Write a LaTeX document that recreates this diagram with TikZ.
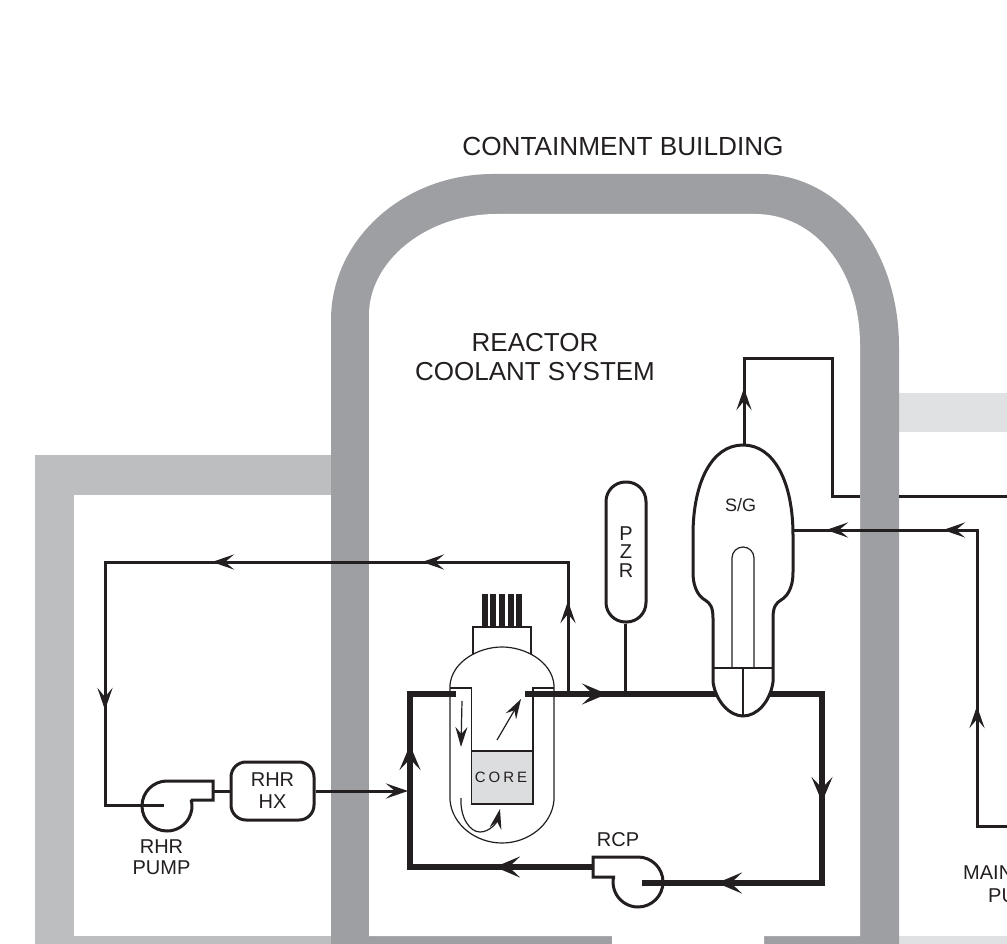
\documentclass[tikz,border=0pt]{standalone}
\usepackage{fontspec}
\setmainfont{Liberation Sans}
\usepackage{xcolor}
\usetikzlibrary{arrows.meta}

\definecolor{wallgray}{HTML}{9D9FA2}
\definecolor{auxgray}{HTML}{BCBEC0}
\definecolor{lightgray}{HTML}{E0E1E3}
\definecolor{coregray}{HTML}{DCDDDE}
\definecolor{inkblack}{HTML}{231F20}

\tikzset{
  textlabel/.style={text=inkblack, font=\fontsize{#1}{#1}\selectfont, inner sep=0pt, align=center},
  pipe/.style={draw=inkblack, line width=3pt},
  mainpipe/.style={draw=inkblack, line width=5.5pt},
  thinline/.style={draw=inkblack, line width=1.2pt},
  tip/.style={-{Stealth[length=25pt, width=21pt, inset=11pt]}},
  smalltip/.style={-{Stealth[length=22pt, width=15pt, inset=9pt]}},
  thintip/.style={-{Stealth[length=20pt, width=12pt, inset=7pt]}}
}

\begin{document}
\begin{tikzpicture}[x=1pt, y=-1pt, line join=miter]

\useasboundingbox (0,0) rectangle (1007,944);
\clip (0,0) rectangle (1007,944);

% Auxiliary buildings
\fill[auxgray] (35,455) rectangle (340,944);
\fill[white] (74,495) rectangle (340,936);
\fill[lightgray] (890,393) rectangle (1007,432);
\fill[lightgray] (890,936) rectangle (1007,944);

% Containment building
\fill[wallgray] (331,944) -- (331,320) .. controls (331,240) and (403,174) .. (493,174)
  -- (760,174) .. controls (840,174) and (899,250) .. (899,347) -- (899,944) -- cycle;
\fill[white] (369,936) -- (369,315) .. controls (369,262) and (425,214) .. (497,214)
  -- (755,214) .. controls (815,214) and (860,270) .. (860,345) -- (860,936) -- (764,936)
  -- (764,944) -- (612,944) -- (612,936) -- cycle;

\node[textlabel=26.2] (contlabel) at (623,146) {CONTAINMENT BUILDING};
\node[textlabel=26] (rcslabel) at (535,357) {REACTOR\\[3.5pt]COOLANT SYSTEM};

% Reactor vessel
\foreach \rodx in {484.7,493.3,502.3,510.7,519.3}
  \fill[inkblack] (\rodx-2.9,594) rectangle (\rodx+2.9,627);
\draw[thinline] (473,654) -- (473,627) -- (531,627) -- (531,654);
\draw[thinline, fill=white] (450,685) .. controls (452,662) and (478,647) .. (502,647)
  .. controls (526,647) and (552,662) .. (554,685) -- (554,800)
  .. controls (552,825) and (528,843) .. (502,843)
  .. controls (476,843) and (452,825) .. (450,800) -- cycle;
\fill[coregray] (471.5,751) rectangle (533,804);
\draw[thinline] (450,688) -- (471.5,688) -- (471.5,804) -- (533,804) -- (533,688) -- (554,688);
\draw[thinline] (471.5,751) -- (533,751);
\node[textlabel=15] (corelabel) at (501,777.5) {\addfontfeatures{LetterSpace=20}CORE};

\coordinate (downstart) at (462,701);
\coordinate (downend) at (461,747);
\coordinate (upstart) at (497,740);
\coordinate (upend) at (521,699);
\draw[thinline, thintip] (downstart) -- (downend);
\draw[thinline, thintip] (upstart) -- (upend);
\draw[thinline, thintip] (461,798) .. controls (460,818) and (470,832) .. (480,832)
  .. controls (490,832) and (497,822) .. (500,809);

% Reactor coolant loop
\coordinate (hotstart) at (525,694);
\coordinate (hotmid) at (607,694);
\coordinate (loopcorner) at (822,694);
\coordinate (loopmid) at (822,802);
\coordinate (loopbottom) at (822,883);
\coordinate (coldmid) at (717,883);
\coordinate (rcpeye) at (642,883);
\coordinate (rcpout) at (593,867);
\coordinate (returnmid) at (495,867);
\coordinate (returncorner) at (410,867);
\coordinate (riser) at (410,745);
\coordinate (inlettop) at (410,694);
\coordinate (inletend) at (456,694);

\draw[mainpipe] (hotstart) -- (loopcorner) -- (loopbottom) -- (rcpeye);
\draw[mainpipe] (rcpout) -- (returncorner) -- (inlettop) -- (inletend);
\draw[pipe, tip] (hotstart) -- (hotmid);
\draw[pipe, tip] (loopcorner) -- (loopmid);
\draw[pipe, tip] (loopbottom) -- (coldmid);
\draw[pipe, tip] (rcpout) -- (returnmid);
\draw[pipe, tip] (returncorner) -- (riser);

% Reactor coolant pump
\draw[pipe] (615,877) -- (593,877) -- (593,857) -- (638,857) arc (-90:190:25);
\node[textlabel=20] (rcplabel) at (618,840) {RCP};

% Pressurizer
\node[draw=inkblack, line width=3pt, fill=white, rounded corners=19.5pt, minimum width=40pt,
  minimum height=140pt, inner sep=0pt, textlabel=20] (pzr) at (626,552) {P\\[-1.5pt]Z\\[-1.5pt]R};
\coordinate (pzrfoot) at (pzr.south -| 625,0);
\coordinate (pzrtee) at (625,694);
\draw[pipe] (pzrfoot) -- (pzrtee);

% Steam generator
\draw[pipe, fill=white] (743,445) .. controls (712,445) and (693,482) .. (693,535)
  -- (693,572) .. controls (693,590) and (700,597) .. (705,600)
  .. controls (710,603) and (713,607) .. (713,618) -- (713,682)
  .. controls (716,702) and (730,716) .. (743,716)
  .. controls (757,716) and (770,702) .. (773,682) -- (773,618)
  .. controls (773,607) and (776,603) .. (781,600)
  .. controls (786,597) and (793,590) .. (793,572) -- (793,535)
  .. controls (793,482) and (774,445) .. (743,445) -- cycle;
\draw[thinline] (713,668) -- (773,668);
\draw[thinline] (743,668) -- (743,716);
\draw[thinline] (732,668) -- (732,558) arc (180:360:11) -- (754,668);
\node[textlabel=18] (sglabel) at (740.5,505) {S/G};

% Steam and feedwater lines
\coordinate (sgtop) at (744,445);
\coordinate (steamup) at (744,388);
\coordinate (steamtop) at (744,358);
\coordinate (steamright) at (832,358);
\coordinate (steamdrop) at (832,496);
\coordinate (wallleft) at (860,496);
\coordinate (wallright) at (899,496);
\coordinate (steamout) at (1007,496);
\draw[pipe] (sgtop) -- (steamtop) -- (steamright) -- (steamdrop) -- (wallleft);
\draw[pipe] (wallright) -- (steamout);
\draw[pipe, smalltip] (sgtop) -- (steamup);

\coordinate (mainout) at (1007,826);
\coordinate (feedcorner) at (977,826);
\coordinate (feedmid) at (977,706);
\coordinate (feedtop) at (977,530);
\coordinate (feedarrowa) at (943,530);
\coordinate (feedarrowb) at (826,530);
\coordinate (sgside) at (793,530);
\draw[pipe] (mainout) -- (feedcorner) -- (feedtop) -- (sgside);
\draw[pipe, smalltip] (feedcorner) -- (feedmid);
\draw[pipe, smalltip] (feedtop) -- (feedarrowa);
\draw[pipe, smalltip] (feedtop) -- (feedarrowb);

\node[textlabel=20, anchor=west] (mainlabel) at (963,873) {MAIN};
\node[textlabel=20, anchor=west] (pulabel) at (988,896) {PU};

% RHR loop
\node[draw=inkblack, line width=3pt, rounded corners=15pt, minimum width=83pt, minimum height=58pt,
  inner sep=0pt, textlabel=20] (rhrhx) at (272.5,791) {RHR\\[2pt]HX};
\coordinate (rhrtee) at (568,694);
\coordinate (rhrup) at (568,601);
\coordinate (rhrtop) at (568,562);
\coordinate (rhrmida) at (422,562);
\coordinate (rhrmidb) at (212,562);
\coordinate (rhrleft) at (105,562);
\coordinate (rhrdown) at (105,710);
\coordinate (rhrbottom) at (105,805);
\coordinate (rhreye) at (164,805);
\coordinate (rhrout) at (213,791);
\coordinate (rhrreturn) at (408,791);

\draw[pipe] (rhrtee) -- (rhrtop) -- (rhrleft) -- (rhrbottom) -- (rhreye);
\draw[pipe, smalltip] (rhrtee) -- (rhrup);
\draw[pipe, smalltip] (rhrtop) -- (rhrmida);
\draw[pipe, smalltip] (rhrtop) -- (rhrmidb);
\draw[pipe, smalltip] (rhrleft) -- (rhrdown);
\draw[pipe] (rhrout) -- (rhrhx.west |- rhrout);
\draw[pipe, smalltip] (rhrhx.east |- rhrreturn) -- (rhrreturn);

% RHR pump
\draw[pipe] (191,800) -- (213,800) -- (213,781) -- (167,781) arc (-90:-375:25);
\node[textlabel=20] (rhrlabel) at (161.5,857) {RHR\\[1pt]PUMP};

\end{tikzpicture}
\end{document}
